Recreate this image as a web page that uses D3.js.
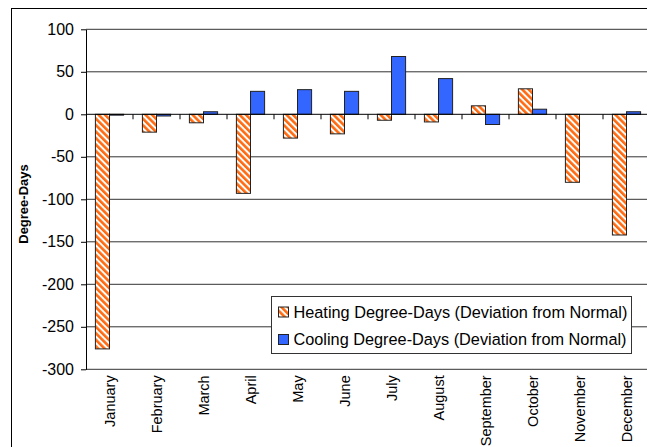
<!DOCTYPE html>
<head>
<meta charset="utf-8">
<style>
body { margin: 0; background: #fff; }
svg { display: block; font-family: "Liberation Sans", Arial, sans-serif; }
</style>
</head>
<body>
<script src="https://cdnjs.cloudflare.com/ajax/libs/d3/7.8.5/d3.min.js"></script>
<script>

var months = ['January', 'February', 'March', 'April', 'May', 'June',
              'July', 'August', 'September', 'October', 'November', 'December'];
var heating = [-276, -21, -10, -93, -28, -23, -7, -9, 10, 30, -80, -142];
var cooling = [-1, -2, 3, 27, 29, 27, 68, 42, -12, 6, 0, 3];
var yTicks = [100, 50, 0, -50, -100, -150, -200, -250, -300];
var seriesNames = ['Heating Degree-Days (Deviation from Normal)',
                   'Cooling Degree-Days (Deviation from Normal)'];

var width = 647,
    height = 447;

// plot runs off the right edge in the original, keep it that way
var plotLeft = 86, plotRight = 650, plotTop = 29.3, plotBottom = 369.3;

var svg = d3.select('body').append('svg')
    .attr('width', width)
    .attr('height', height);

var defs = svg.append('defs');
var pat = defs.append('pattern')
    .attr('id', 'stripes')
    .attr('patternUnits', 'userSpaceOnUse')
    .attr('width', 4.6)
    .attr('height', 10)
    .attr('patternTransform', 'rotate(-45)');
pat.append('rect').attr('width', 4.6).attr('height', 10).attr('fill', '#fff');
pat.append('rect').attr('width', 2.6).attr('height', 10).attr('fill', '#ff6a10');

// outer chart border
svg.append('rect')
    .attr('x', 11.5).attr('y', 8.5)
    .attr('width', 700).attr('height', 500)
    .attr('fill', 'none')
    .attr('stroke', '#000');

var y = d3.scaleLinear().domain([-300, 100]).range([plotBottom, plotTop]);
var x0 = d3.scaleBand().domain(months).range([plotLeft, plotRight]);
var bw = x0.bandwidth();
var x1 = d3.scaleBand().domain(['heat', 'cool']).range([bw * 0.2, bw * 0.8]);

// gridlines
svg.append('g').selectAll('line')
    .data(yTicks.filter(function(d) { return d !== 0; }))
  .enter().append('line')
    .attr('x1', plotLeft).attr('x2', 700)
    .attr('y1', function(d) { return y(d); })
    .attr('y2', function(d) { return y(d); })
    .attr('stroke', '#333');

// y axis (plain hyphen minus like the original)
var yAxis = svg.append('g')
    .attr('transform', 'translate(' + plotLeft + ',0)')
    .call(d3.axisLeft(y).tickValues(yTicks).tickFormat(function(d) { return String(d); })
      .tickSize(5).tickSizeOuter(0).tickPadding(7));
yAxis.select('.domain').attr('stroke', '#000');
yAxis.selectAll('text').attr('font-size', 16).attr('fill', '#000')
    .attr('font-family', '"Liberation Sans", Arial, sans-serif');

// bars
var groups = svg.append('g').selectAll('g')
    .data(months)
  .enter().append('g')
    .attr('transform', function(d) { return 'translate(' + x0(d) + ',0)'; });

groups.append('rect')
    .attr('x', x1('heat'))
    .attr('width', x1.bandwidth())
    .attr('y', function(d, i) { return y(Math.max(0, heating[i])); })
    .attr('height', function(d, i) { return Math.abs(y(heating[i]) - y(0)); })
    .attr('fill', 'url(#stripes)')
    .attr('stroke', '#222')
    .attr('stroke-width', 1);

groups.append('rect')
    .attr('x', x1('cool'))
    .attr('width', x1.bandwidth())
    .attr('y', function(d, i) { return y(Math.max(0, cooling[i])); })
    .attr('height', function(d, i) { return Math.abs(y(cooling[i]) - y(0)); })
    .attr('fill', '#3366ff')
    .attr('stroke', '#222')
    .attr('stroke-width', 1);

// category axis sits on zero
var xAxis = svg.append('g')
    .attr('transform', 'translate(0,' + y(0) + ')');
xAxis.append('line')
    .attr('x1', plotLeft).attr('x2', 700)
    .attr('stroke', '#000');
xAxis.selectAll('.tick')
    .data(months)
  .enter().append('line')
    .attr('x1', function(d) { return x0(d) + bw; })
    .attr('x2', function(d) { return x0(d) + bw; })
    .attr('y1', 0).attr('y2', 5)
    .attr('stroke', '#000');

// month labels below the plot
svg.append('g').selectAll('text')
    .data(months)
  .enter().append('text')
    .attr('transform', function(d) {
      return 'translate(' + (x0(d) + bw / 2 + 5) + ',' + (plotBottom + 6) + ') rotate(-90)';
    })
    .attr('text-anchor', 'end')
    .attr('font-size', 14.5)
    .text(function(d) { return d; });

// y title
svg.append('text')
    .attr('transform', 'translate(28,204) rotate(-90)')
    .attr('text-anchor', 'middle')
    .attr('font-size', 13)
    .attr('font-weight', 'bold')
    .text('Degree-Days');

// legend
var legend = svg.append('g').attr('transform', 'translate(271.5,296.5)');
legend.append('rect')
    .attr('width', 360).attr('height', 57)
    .attr('fill', '#fff')
    .attr('stroke', '#333');

var items = legend.selectAll('g.item')
    .data(seriesNames)
  .enter().append('g')
    .attr('transform', function(d, i) { return 'translate(0,' + (15.5 + i * 27.5) + ')'; });

items.append('rect')
    .attr('x', 7).attr('y', -5)
    .attr('width', 10).attr('height', 10)
    .attr('fill', function(d, i) { return i === 0 ? 'url(#stripes)' : '#3366ff'; })
    .attr('stroke', '#222');

items.append('text')
    .attr('x', 22)
    .attr('dy', '0.36em')
    .attr('font-size', 16.3)
    .text(function(d) { return d; });

</script>
</body>
</html>
